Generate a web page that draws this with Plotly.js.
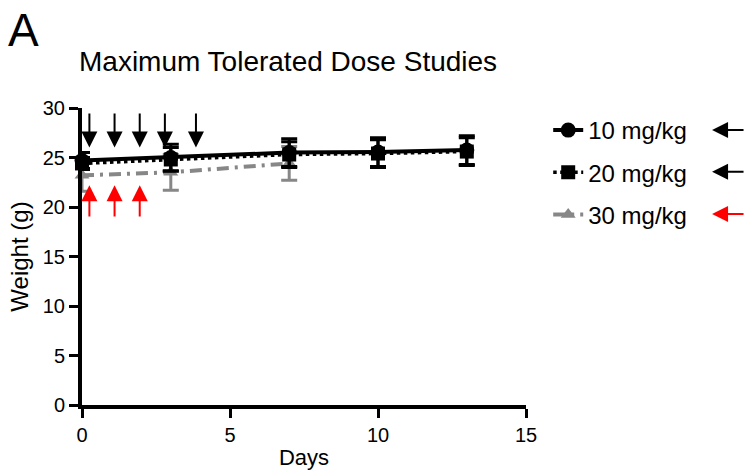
<!DOCTYPE html>
<html>
<head>
<meta charset="utf-8">
<script src="https://cdn.plot.ly/plotly-3.0.1.min.js"></script>
<style>html,body{margin:0;padding:0;background:#fff;}#chart{width:749px;height:476px;}</style>
</head>
<body>
<div id="chart"></div>
<script>
// ---- data ----
const seriesNames = ["10 mg/kg", "20 mg/kg", "30 mg/kg"];
const days10 = [0, 3, 7, 10, 13];
const weight10 = [24.7, 25.0, 25.5, 25.55, 25.75];
const err10 = [0.8, 1.35, 1.4, 1.45, 1.45];
const days20 = [0, 3, 7, 10, 13];
const weight20 = [24.4, 24.8, 25.3, 25.4, 25.6];
const err20 = [0.6, 1.2, 1.3, 1.4, 1.4];
const days30 = [0, 3, 7];
const weight30 = [23.2, 23.5, 24.4];
const err30 = [1.6, 1.8, 1.7];
const blackArrowDays = [0.25, 1.1, 1.95, 2.8, 3.85];
const redArrowDays = [0.25, 1.1, 1.95];
const xTicks = [0, 5, 10, 15];
const yTicks = [0, 5, 10, 15, 20, 25, 30];

const FONT = "Liberation Sans, Arial, Helvetica, sans-serif";
const GRAY = "#878787";

const traces = [
  {
    x: days30, y: weight30, name: seriesNames[2], type: "scatter", mode: "lines+markers",
    legendgroup: "c", legendrank: 3, cliponaxis: false,
    line: {color: GRAY, width: 4, dash: "12px,6px,3px,6px"},
    marker: {symbol: "triangle-up", size: 13, color: GRAY},
    error_y: {type: "data", array: err30, color: GRAY, thickness: 3, width: 8}
  },
  {
    x: days20, y: weight20, name: seriesNames[1], type: "scatter", mode: "lines+markers",
    legendgroup: "b", legendrank: 2, cliponaxis: false,
    line: {color: "#000", width: 3.5, dash: "dot"},
    marker: {symbol: "square", size: 14, color: "#000"},
    error_y: {type: "data", array: err20, color: "#000", thickness: 3, width: 8}
  },
  {
    x: days10, y: weight10, name: seriesNames[0], type: "scatter", mode: "lines+markers",
    legendgroup: "a", legendrank: 1, cliponaxis: false,
    line: {color: "#000", width: 4},
    marker: {symbol: "circle", size: 15, color: "#000"},
    error_y: {type: "data", array: err10, color: "#000", thickness: 3, width: 8}
  }
];

const annotations = [];
blackArrowDays.forEach(d => annotations.push({
  x: d, y: 26.0, xref: "x", yref: "y", axref: "x", ayref: "y", ax: d, ay: 29.6,
  showarrow: true, arrowhead: 2, arrowsize: 1.6, arrowwidth: 2, arrowcolor: "#000", text: ""
}));
redArrowDays.forEach(d => annotations.push({
  x: d, y: 22.2, xref: "x", yref: "y", axref: "x", ayref: "y", ax: d, ay: 18.9,
  showarrow: true, arrowhead: 2, arrowsize: 1.6, arrowwidth: 2, arrowcolor: "#ff0000", text: ""
}));
// legend arrows
const legendArrowColors = ["#000", "#000", "#ff0000"];
const legendRowsY = [0.926, 0.785, 0.643];
legendRowsY.forEach((yy, i) => annotations.push({
  x: 1.419, y: yy, xref: "paper", yref: "paper", ax: 33, ay: 0,
  showarrow: true, arrowhead: 2, arrowsize: 1.6, arrowwidth: 2, arrowcolor: legendArrowColors[i], text: ""
}));
annotations.push({
  text: "Maximum Tolerated Dose Studies", x: 0.465, y: 1.155, xref: "paper", yref: "paper",
  xanchor: "center", yanchor: "middle", showarrow: false, font: {family: FONT, size: 28, color: "#000"}
});
annotations.push({
  text: "A", x: -0.172, y: 1.262, xref: "paper", yref: "paper",
  xanchor: "left", yanchor: "middle", showarrow: false, font: {family: FONT, size: 46, color: "#000"}
});

const layout = {
  width: 749, height: 476,
  margin: {l: 82, r: 223, t: 108, b: 71},
  paper_bgcolor: "#fff", plot_bgcolor: "#fff",
  font: {family: FONT, color: "#000", size: 20},
  showlegend: true,
  legend: {
    x: 1.05, y: 1.0, xanchor: "left", yanchor: "top",
    font: {family: FONT, size: 24, color: "#000"},
    traceorder: "grouped", tracegroupgap: 8, bgcolor: "rgba(0,0,0,0)"
  },
  xaxis: {
    range: [0, 15], tickvals: xTicks, ticktext: xTicks.map(String),
    showline: true, linewidth: 4, linecolor: "#000", mirror: false,
    ticks: "outside", ticklen: 9, tickwidth: 3, tickcolor: "#000",
    showgrid: false, zeroline: false,
    tickfont: {family: FONT, size: 20},
    title: {text: "Days", font: {family: FONT, size: 22}, standoff: 6}
  },
  yaxis: {
    range: [0, 30], tickvals: yTicks, ticktext: yTicks.map(String),
    showline: true, linewidth: 4, linecolor: "#000",
    ticks: "outside", ticklen: 9, tickwidth: 3, tickcolor: "#000",
    showgrid: false, zeroline: false,
    tickfont: {family: FONT, size: 20},
    title: {text: "Weight (g)", font: {family: FONT, size: 24}, standoff: 8}
  },
  annotations: annotations
};

Plotly.newPlot("chart", traces, layout, {displayModeBar: false, staticPlot: true});
</script>
</body>
</html>
